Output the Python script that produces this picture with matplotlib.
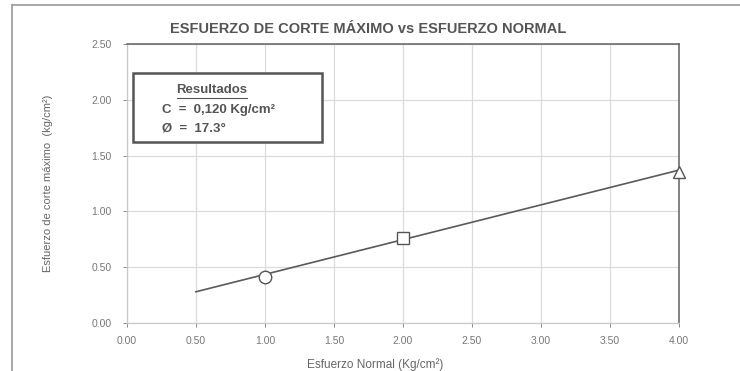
import matplotlib.pyplot as plt
from matplotlib.lines import Line2D

# ensayo de corte directo: puntos y recta de ajuste
normal = [1.00, 2.00, 4.00]
corte = [0.41, 0.76, 1.35]
markers = ['o', 's', '^']

line_x = [0.50, 4.00]
line_y = [0.28, 1.37]

xticks = [0.0, 0.5, 1.0, 1.5, 2.0, 2.5, 3.0, 3.5, 4.0]
yticks = [0.0, 0.5, 1.0, 1.5, 2.0, 2.5]

title = "ESFUERZO DE CORTE MÁXIMO vs ESFUERZO NORMAL"
res_lines = ["C  =  0,120 Kg/cm²", "Ø  =  17.3°"]

plt.rcParams['font.family'] = ['Liberation Sans', 'DejaVu Sans']

fig = plt.figure(figsize=(7.4, 3.71), dpi=100)
ax = fig.add_axes([127/740, 1-323/371, 552/740, 279/371])

ax.plot(line_x, line_y, color='#5a5a5a', lw=1.2, zorder=3)
for x, y, m in zip(normal, corte, markers):
    ax.plot(x, y, marker=m, ms=9, mfc='white', mec='#555555', mew=1.0,
            ls='none', zorder=4, clip_on=False)

ax.set_xlim(0, 4)
ax.set_ylim(0, 2.5)
ax.set_xticks(xticks)
ax.set_yticks(yticks)
ax.set_xticklabels([f"{v:.2f}" for v in xticks])
ax.set_yticklabels([f"{v:.2f}" for v in yticks])
ax.tick_params(labelsize=7.5, colors='#777777', length=3, width=0.6)
ax.tick_params(axis='y', pad=8)
ax.tick_params(axis='x', pad=6)
ax.grid(True, color='#dcdcdc', lw=0.9)
ax.set_axisbelow(True)

for s in ['left', 'bottom']:
    ax.spines[s].set_color('#c8c8c8')
    ax.spines[s].set_linewidth(0.9)
for s in ['top', 'right']:
    ax.spines[s].set_color('#606060')
    ax.spines[s].set_linewidth(1.1)

ax.set_xlabel("Esfuerzo Normal (Kg/cm²)", fontsize=8.5, color='#666666')
ax.set_ylabel("Esfuerzo de corte máximo  (kg/cm²)", fontsize=8, color='#666666')
ax.xaxis.set_label_coords(0.45, -35/279)
ax.yaxis.set_label_coords(-74/552, 0.5)

fig.text(368/740, 1-29/371, title, ha='center', va='center', fontsize=10.5,
         fontweight='bold', color='#555555')

# cuadro de resultados
box = plt.Rectangle((133/740, 1-142/371), 189/740, 69/371, transform=fig.transFigure,
                    fill=True, fc='white', ec='#555555', lw=1.8, zorder=5)
fig.add_artist(box)
fig.text(212/740, 1-90/371, "Resultados", ha='center', va='center', fontsize=9.5,
         fontweight='bold', color='#555555', zorder=6)
fig.add_artist(Line2D([177/740, 247/740], [1-97.5/371, 1-97.5/371], color='#555555', lw=0.8, zorder=6))
fig.text(162/740, 1-110/371, res_lines[0], ha='left', va='center', fontsize=9.5,
         fontweight='bold', color='#555555', zorder=6)
fig.text(162/740, 1-128/371, res_lines[1], ha='left', va='center', fontsize=9.5,
         fontweight='bold', color='#555555', zorder=6)

# borde del escaneo
fig.add_artist(Line2D([12/740, 1], [1-5/371, 1-5/371], color='#9a9a9a', lw=1.2))
fig.add_artist(Line2D([12/740, 12/740], [0, 1-5/371], color='#9a9a9a', lw=1.2))

fig.savefig("out.png", dpi=100)
